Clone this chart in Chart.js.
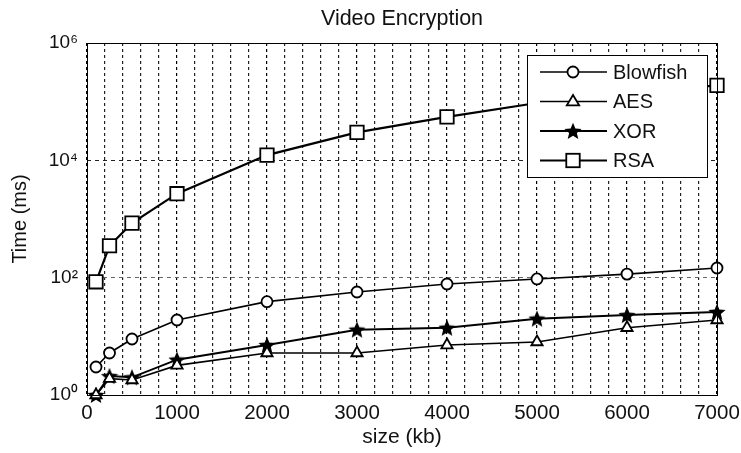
<!DOCTYPE html>
<html>
<head>
<meta charset="utf-8">
<script src="https://cdn.jsdelivr.net/npm/chart.js@4"></script>
<style>
  html, body { margin: 0; padding: 0; background: #fff; }
  #wrap { width: 741px; height: 453px; }
</style>
</head>
<body>
<div id="wrap"><canvas id="myChart" width="741" height="453"></canvas></div>
<script>
const sizes = [100, 250, 500, 1000, 2000, 3000, 4000, 5000, 6000, 7000]
const blowfish = [3, 5.2, 9, 19, 39, 57, 78, 95, 115, 146]
const aes = [1, 1.9, 1.8, 3.2, 5.2, 5.2, 7.1, 8, 14, 19]
const xor = [1, 2.1, 2, 4, 7.1, 13, 14, 20, 23, 26]
const rsa = [85, 350, 850, 2700, 12300, 30000, 55000, 95000, 140000, 190000]
const yTicks = [1, 100, 10000, 1000000]
const xTickStep = 200
const chartTitle = 'Video Encryption'

const FONT = "'Liberation Sans', Arial, Helvetica, sans-serif"
const sup = {'0':'\u2070','1':'\u00b9','2':'\u00b2','3':'\u00b3','4':'\u2074','5':'\u2075','6':'\u2076'}

// filled five point star for XOR
function makeStar(size) {
  const c = document.createElement('canvas')
  c.width = size; c.height = size
  const g = c.getContext('2d')
  const cx = size / 2, cy = size / 2 + 0.8, ro = size / 2, ri = ro * 0.45
  g.beginPath()
  for (let i = 0; i < 10; i++) {
    const r = i % 2 ? ri : ro
    const a = -Math.PI / 2 + i * Math.PI / 5
    g.lineTo(cx + r * Math.cos(a), cy + r * Math.sin(a))
  }
  g.closePath()
  g.fillStyle = '#000'
  g.fill()
  return c
}
const star = makeStar(18)

function pts(arr) { return sizes.map((s, i) => ({x: s, y: arr[i]})) }

const series = [
  {label: 'Blowfish', data: pts(blowfish), pointStyle: 'circle', pointRadius: 5.5, borderWidth: 1.6},
  {label: 'AES', data: pts(aes), pointStyle: 'triangle', pointRadius: 6.5, borderWidth: 1.6},
  {label: 'XOR', data: pts(xor), pointStyle: star, pointRadius: 9, borderWidth: 2},
  {label: 'RSA', data: pts(rsa), pointStyle: 'rect', pointRadius: 9.5, borderWidth: 2.2}
]

function drawMarker(g, style, x, y, r) {
  g.save()
  g.fillStyle = '#fff'
  g.strokeStyle = '#000'
  g.lineWidth = 1.8
  if (style === 'circle') {
    g.beginPath(); g.arc(x, y, r, 0, Math.PI * 2); g.fill(); g.stroke()
  } else if (style === 'triangle') {
    g.beginPath()
    g.moveTo(x, y - r); g.lineTo(x + r * 0.95, y + r * 0.6); g.lineTo(x - r * 0.95, y + r * 0.6)
    g.closePath(); g.fill(); g.stroke()
  } else if (style === 'rect') {
    const s = r * Math.SQRT1_2
    g.fillRect(x - s, y - s, 2 * s, 2 * s); g.strokeRect(x - s, y - s, 2 * s, 2 * s)
  } else {
    g.drawImage(style, x - style.width / 2, y - style.height / 2)
  }
  g.restore()
}

const boxAndLegend = {
  id: 'boxAndLegend',
  afterDatasetsDraw(chart) {
    const g = chart.ctx
    const a = chart.chartArea
    g.save()
    g.strokeStyle = '#000'
    g.lineWidth = 1
    g.strokeRect(Math.round(a.left) + 0.5, Math.round(a.top) + 0.5, Math.round(a.right - a.left), Math.round(a.bottom - a.top))
    // title centred over the plot box
    g.font = '21.5px ' + FONT
    g.fillStyle = '#111'
    g.textAlign = 'center'
    g.textBaseline = 'middle'
    g.fillText(chartTitle, (a.left + a.right) / 2, 19)
    // legend inside the plot, top right
    const lx = 527, ly = 55, lw = 180, lh = 122
    g.fillStyle = '#fff'
    g.fillRect(lx, ly, lw, lh)
    g.strokeRect(lx + 0.5, ly + 0.5, lw, lh)
    g.font = '20px ' + FONT
    g.textAlign = 'left'
    chart.data.datasets.forEach((ds, i) => {
      const y = 72 + i * 29.5
      g.beginPath()
      g.strokeStyle = '#000'
      g.lineWidth = ds.borderWidth
      g.moveTo(540, y); g.lineTo(607, y); g.stroke()
      drawMarker(g, ds.pointStyle, 573, y, ds.pointRadius)
      g.fillStyle = '#111'
      g.fillText(ds.label, 613, y + 1)
    })
    g.restore()
  }
}

const ctx = document.getElementById('myChart')

const myChart = new Chart(ctx, {
  type: 'line',
  data: {
    datasets: series.map(s => ({
      label: s.label,
      data: s.data,
      pointStyle: s.pointStyle,
      pointRadius: s.pointRadius,
      pointHoverRadius: s.pointRadius,
      borderWidth: s.borderWidth,
      pointBorderWidth: 1.8,
      borderColor: '#000',
      pointBorderColor: '#000',
      pointBackgroundColor: '#fff',
      backgroundColor: '#fff',
      tension: 0,
      fill: false,
      clip: false
    }))
  },
  options: {
    responsive: false,
    animation: false,
    events: [],
    layout: { padding: { left: 0, right: 0, top: 43, bottom: 0 } },
    plugins: {
      legend: { display: false },
      tooltip: { enabled: false },
      title: { display: false }
    },
    scales: {
      x: {
        type: 'linear',
        min: 0,
        max: 7000,
        afterBuildTicks: scale => {
          const t = []
          for (let v = 0; v <= 7000; v += xTickStep) t.push({value: v})
          scale.ticks = t
        },
        afterFit: scale => { scale.height = 58; scale.paddingRight = 24; scale.paddingLeft = 0 },
        ticks: {
          autoSkip: false,
          maxRotation: 0,
          padding: 6,
          color: '#111',
          font: { family: FONT, size: 20.5 },
          callback: v => (v % 1000 === 0 ? String(v) : '')
        },
        grid: {
          drawTicks: false,
          color: ctx => (ctx.tick && ctx.tick.value % 1000 === 0 ? '#000' : '#222'),
          lineWidth: 1.2
        },
        border: { display: false, dash: [3, 3] },
        title: {
          display: true,
          text: 'size (kb)',
          color: '#111',
          font: { family: FONT, size: 21 },
          padding: { top: 0, bottom: 3 }
        }
      },
      y: {
        type: 'logarithmic',
        min: 1,
        max: 1000000,
        afterBuildTicks: scale => { scale.ticks = yTicks.map(v => ({value: v})) },
        afterFit: scale => { scale.width = 87; scale.paddingTop = 0 },
        ticks: {
          padding: 9,
          color: '#111',
          font: { family: FONT, size: 19 },
          callback: v => '10' + String(Math.round(Math.log10(v))).split('').map(d => sup[d]).join('')
        },
        grid: {
          drawTicks: false,
          color: ctx => (ctx.tick && ctx.tick.value === 100 ? '#666' : '#222'),
          lineWidth: 1
        },
        border: { display: false, dash: [4, 4] },
        title: {
          display: true,
          text: 'Time (ms)',
          color: '#111',
          font: { family: FONT, size: 20 },
          padding: { top: 8, bottom: 0 }
        }
      }
    }
  },
  plugins: [boxAndLegend]
})
</script>
</body>
</html>
